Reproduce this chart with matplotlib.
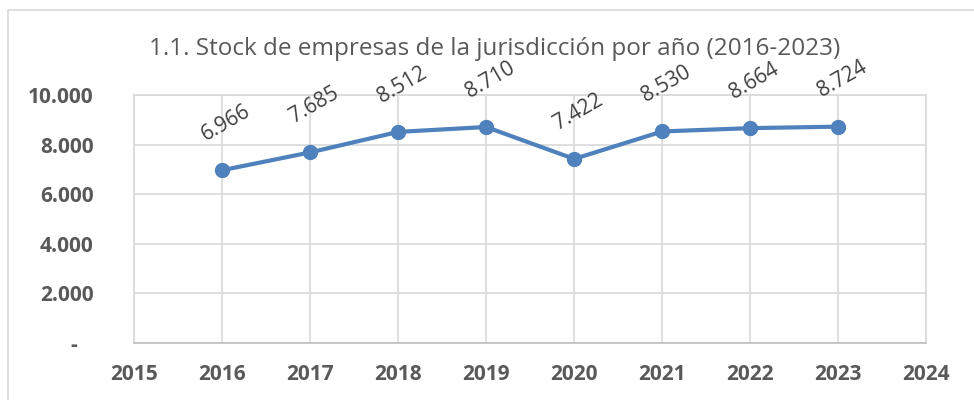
import matplotlib
matplotlib.use('Agg')
import matplotlib.pyplot as plt
from matplotlib.patches import Rectangle

years = [2016, 2017, 2018, 2019, 2020, 2021, 2022, 2023]
empresas = [6966, 7685, 8512, 8710, 7422, 8530, 8664, 8724]
x_ticks = list(range(2015, 2025))
y_ticks = [0, 2000, 4000, 6000, 8000, 10000]


def fmt_miles(v):
    if v == 0:
        return '-\u00a0\u00a0\u00a0'
    return f'{v:,.0f}'.replace(',', '.')


plt.rcParams['font.family'] = ['Open Sans', 'DejaVu Sans']

fig = plt.figure(figsize=(9.74, 4.0), dpi=100)
ax = fig.add_axes([0.1376, 0.1425, 0.8134, 0.62])

# borde del gráfico
fig.patches.append(Rectangle((8 / 974, -0.1), 1.2, 1.1 - 10 / 400, transform=fig.transFigure,
                             fill=False, edgecolor='#D9D9D9', linewidth=1.2))

ax.plot(years, empresas, color='#4F81BD', linewidth=3, marker='o', markersize=10, zorder=3)

for x, y in zip(years, empresas):
    ax.annotate(fmt_miles(y), (x, y), xytext=(3, 34), textcoords='offset points',
                ha='center', va='center', rotation=30, fontsize=15, color='#404040')

ax.set_xlim(2015, 2024)
ax.set_ylim(0, 10000)
ax.set_xticks(x_ticks)
ax.set_yticks(y_ticks)
ax.set_yticklabels([fmt_miles(v) for v in y_ticks])
ax.grid(True, color='#D9D9D9', linewidth=1.2)
ax.set_axisbelow(True)
for s in ax.spines.values():
    s.set_color('#D9D9D9')
    s.set_linewidth(1.2)
ax.spines['bottom'].set_color('#BFBFBF')
ax.tick_params(length=0, labelsize=15, labelcolor='#595959', pad=15)
ax.tick_params(axis='y', pad=29)
for lab in ax.get_xticklabels() + ax.get_yticklabels():
    lab.set_fontweight('bold')

fig.text(0.508, 0.878, '1.1. Stock de empresas de la jurisdicción por año (2016-2023)',
         ha='center', va='center', fontsize=17.5, color='#595959')

fig.savefig('out.png', dpi=100)
